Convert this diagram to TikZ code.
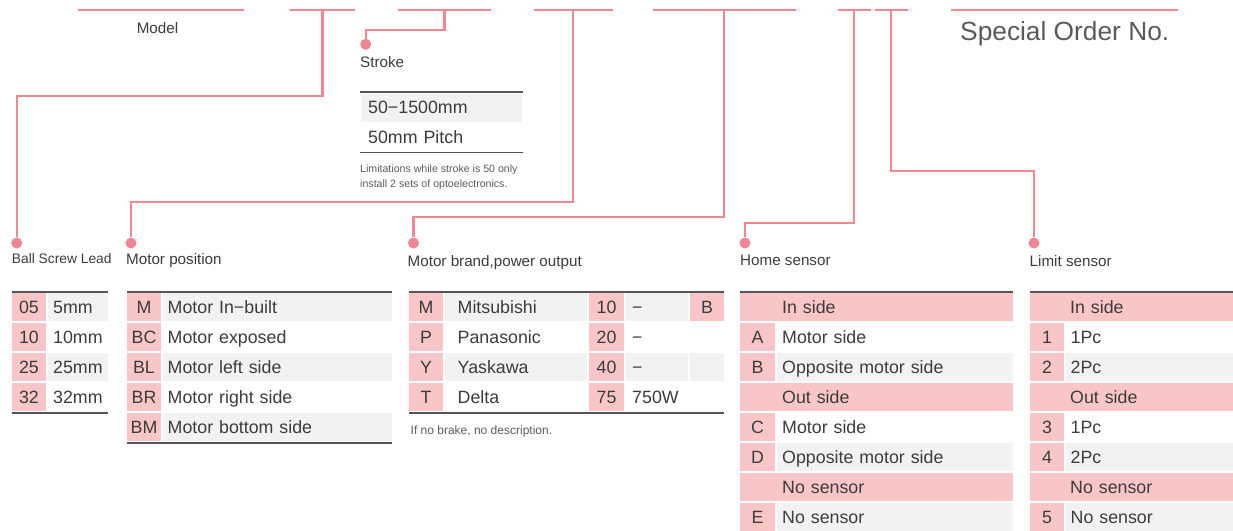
\documentclass[tikz,border=0pt]{standalone}
\usepackage{fontspec}
\setmainfont{Liberation Sans}

\definecolor{linkred}{RGB}{240,134,145}
\definecolor{pinkfill}{RGB}{248,198,198}
\definecolor{grayfill}{RGB}{242,242,242}
\definecolor{rulegray}{RGB}{85,85,85}
\definecolor{txt}{RGB}{60,60,60}
\definecolor{titlegray}{RGB}{90,90,90}

\newcommand{\tabfont}{\fontsize{17.8pt}{20pt}\selectfont}
\newcommand{\lblfont}{\fontsize{15.2pt}{17pt}\selectfont}
\newcommand{\notefont}{\fontsize{10.6pt}{13pt}\selectfont}

\begin{document}
\begin{tikzpicture}[x=1pt, y=-1pt,
	link/.style={draw=linkred, line width=2.2pt},
	dot/.style={circle, fill=linkred, inner sep=0pt, minimum size=11pt},
	lbl/.style={anchor=west, inner sep=0pt, text=txt, font=\lblfont, text height=10.9pt, text depth=0pt},
	note/.style={anchor=west, inner sep=0pt, text=titlegray, font=\notefont, text height=7.6pt, text depth=0pt},
	cell/.style={minimum height=28pt, inner sep=0pt, text=txt, font=\tabfont, text height=12.7pt, text depth=0pt},
	codecell/.style={cell, fill=pinkfill, minimum width=#1},
	desccell/.style={cell, anchor=west, align=left, fill=#1},
	headrow/.style={cell, anchor=west, align=left, fill=pinkfill, inner xsep=5pt},
	toprule/.style={draw=rulegray, line width=2.8pt},
	botrule/.style={draw=rulegray, line width=1.6pt}]

	\useasboundingbox (0,0) rectangle (1233,530);

	% code line at the top
	\foreach \a/\b in {78/244, 290/355, 398/491, 534/612.5, 652.5/796, 837.5/870.5, 875/907.5, 951/1177.5}
		\draw[link] (\a,10) -- (\b,10);

	\node[anchor=center, inner sep=0pt, text=txt, font=\lblfont, text height=10.9pt, text depth=0pt] (model) at (157.5,27.7) {Model};
	\node[anchor=west, inner sep=0pt, text=titlegray, font=\fontsize{26.3pt}{30pt}\selectfont, text height=18.8pt, text depth=0pt] (special) at (960,31.2) {Special Order No.};

	\coordinate (model-drop) at (322.5,10);
	\coordinate (stroke-drop) at (444.5,10);
	\coordinate (pos-drop) at (573.3,10);
	\coordinate (brand-drop) at (724,10);
	\coordinate (home-drop) at (853.7,10);
	\coordinate (limit-drop) at (890.7,10);

	\node[dot] (lead-dot) at (16.7,243) {};
	\node[dot] (stroke-dot) at (365.7,44.3) {};
	\node[dot] (pos-dot) at (131,243) {};
	\node[dot] (brand-dot) at (413.5,243) {};
	\node[dot] (home-dot) at (745,243) {};
	\node[dot] (limit-dot) at (1034,243) {};

	\draw[link] (model-drop) -- ++(0,85.7) -| (lead-dot);
	\draw[link] (stroke-drop) -- ++(0,20) -| (stroke-dot);
	\draw[link] (pos-drop) -- ++(0,192) -| (pos-dot);
	\draw[link] (brand-drop) -- ++(0,206.7) -| (brand-dot);
	\draw[link] (home-drop) -- ++(0,213.3) -| (home-dot);
	\draw[link] (limit-drop) -- ++(0,161) -| (limit-dot);

	\node[lbl] (stroke-lbl) at (360,61.7) {Stroke};
	\node[lbl, font=\fontsize{13.8pt}{16pt}\selectfont, text height=9.9pt] (lead-lbl) at (11.7,259) {Ball Screw Lead};
	\node[lbl] (pos-lbl) at (126,259) {Motor position};
	\node[lbl] (brand-lbl) at (407.5,261) {Motor brand,power output};
	\node[lbl] (home-lbl) at (740,260.5) {Home sensor};
	\node[lbl] (limit-lbl) at (1029.5,261.5) {Limit sensor};

	% stroke
	\draw[toprule] (360,92) -- (522.5,92);
	\node[desccell=grayfill, minimum width=161pt, text width=147pt, inner xsep=7pt] (stroke-r1) at (361,107.5) {50−1500mm};
	\node[desccell=white, minimum width=161pt, text width=147pt, inner xsep=7pt] (stroke-r2) at (361,137.5) {50mm Pitch};
	\draw[botrule] (360,152.5) -- (522.5,152.5);
	\node[note] (stroke-note1) at (360,168.3) {Limitations while stroke is 50 only};
	\node[note] (stroke-note2) at (360,183.3) {install 2 sets of optoelectronics.};

	% ball screw lead
	\draw[toprule] (12,292) -- (108,292);
	\foreach \c/\d/\f [count=\i] in {05/5mm/grayfill, 10/10mm/white, 25/25mm/grayfill, 32/32mm/white} {
		\node[codecell=34pt] (lead-c\i) at (29,277+30*\i) {\c};
		\node[desccell=\f, minimum width=60pt, text width=50pt, inner xsep=5pt] (lead-d\i) at (48,277+30*\i) {\d};
	}
	\draw[botrule] (12,413) -- (108,413);

	% motor position
	\draw[toprule] (127,292) -- (392,292);
	\foreach \c/\d/\f [count=\i] in {M/Motor In−built/grayfill, BC/Motor exposed/white, BL/Motor left side/grayfill, BR/Motor right side/white, BM/Motor bottom side/grayfill} {
		\node[codecell=34pt] (pos-c\i) at (144,277+30*\i) {\c};
		\node[desccell=\f, minimum width=229pt, text width=220pt, inner xsep=4.5pt] (pos-d\i) at (163,277+30*\i) {\d};
	}
	\draw[botrule] (127,443) -- (392,443);

	% motor brand, power output
	\draw[toprule] (409,292) -- (724,292);
	\foreach \c/\b/\p/\d/\f [count=\i] in {M/Mitsubishi/10/−/grayfill, P/Panasonic/20/−/white, Y/Yaskawa/40/−/grayfill, T/Delta/75/750W/white} {
		\node[codecell=34pt] (brand-c\i) at (426,277+30*\i) {\c};
		\node[desccell=\f, minimum width=142pt, text width=117pt, inner xsep=12.5pt] (brand-n\i) at (445,277+30*\i) {\b};
		\node[codecell=35pt] (brand-p\i) at (606.5,277+30*\i) {\p};
		\node[desccell=\f, minimum width=62pt, text width=50pt, inner xsep=6pt] (brand-d\i) at (626,277+30*\i) {\d};
	}
	\node[codecell=34pt] (brake-1) at (707,307) {B};
	\node[cell, fill=grayfill, minimum width=34pt] (brake-3) at (707,367) {};
	\draw[botrule] (409,413) -- (724,413);
	\node[note, font=\fontsize{12pt}{14pt}\selectfont, text height=8.6pt] (brand-note) at (410.5,430) {If no brake, no description.};

	% home sensor
	\draw[toprule] (740,292) -- (1013,292);
	\foreach \i/\t in {1/In side, 4/Out side, 7/No sensor}
		\node[headrow, minimum width=273pt, text width=263pt] (home-h\i) at (740,277+30*\i) {\hspace*{37pt}\t};
	\foreach \i/\c/\d/\f in {2/A/Motor side/white, 3/B/Opposite motor side/grayfill, 5/C/Motor side/white, 6/D/Opposite motor side/grayfill, 8/E/No sensor/grayfill} {
		\node[codecell=35pt] (home-c\i) at (757.5,277+30*\i) {\c};
		\node[desccell=\f, minimum width=236pt, text width=226pt, inner xsep=5pt] (home-d\i) at (777,277+30*\i) {\d};
	}

	% limit sensor
	\draw[toprule] (1030,292) -- (1233,292);
	\foreach \i/\t in {1/In side, 4/Out side, 7/No sensor}
		\node[headrow, minimum width=203pt, text width=193pt] (limit-h\i) at (1030,277+30*\i) {\hspace*{35pt}\t};
	\foreach \i/\c/\d/\f in {2/1/1Pc/white, 3/2/2Pc/grayfill, 5/3/1Pc/white, 6/4/2Pc/grayfill, 8/5/No sensor/grayfill} {
		\node[codecell=34pt] (limit-c\i) at (1047,277+30*\i) {\c};
		\node[desccell=\f, minimum width=167pt, text width=158pt, inner xsep=4.5pt] (limit-d\i) at (1066,277+30*\i) {\d};
	}

\end{tikzpicture}
\end{document}
